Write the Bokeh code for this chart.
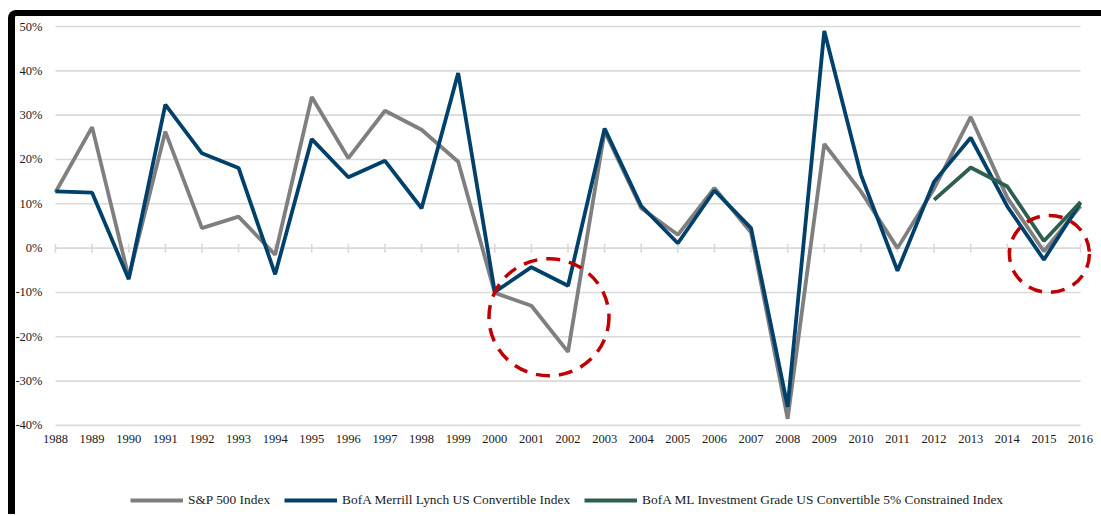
import math
from bokeh.plotting import figure
from bokeh.models import Range1d, Legend, LegendItem
from bokeh.core.properties import value
from bokeh.embed import file_html
from bokeh.resources import INLINE

# ---- data ----
years = list(range(1988, 2017))
year_labels = [str(y) for y in years]
sp500 = [12.6, 27.3, -6.6, 26.3, 4.5, 7.1, -1.5, 34.1, 20.3, 31.0, 26.7, 19.5,
         -10.1, -13.0, -23.4, 26.4, 9.0, 3.0, 13.6, 3.5, -38.5, 23.5, 12.8, 0.0,
         13.4, 29.6, 11.4, -0.7, 9.5]
convertible = [12.8, 12.5, -7.0, 32.4, 21.4, 18.1, -5.9, 24.6, 16.0, 19.7, 9.0, 39.5,
               -9.9, -4.3, -8.5, 27.0, 9.5, 1.1, 13.0, 4.5, -35.8, 49.0, 16.6, -5.1,
               15.0, 24.9, 9.4, -2.6, 10.3]
ig_years = [2012, 2013, 2014, 2015, 2016]
ig_convertible = [10.9, 18.2, 13.9, 1.6, 10.4]

y_ticks = [-40, -30, -20, -10, 0, 10, 20, 30, 40, 50]
y_tick_labels = [f"{v}%" for v in y_ticks]

names = ["S&P 500 Index",
         "BofA Merrill Lynch US Convertible Index",
         "BofA ML Investment Grade US Convertible 5% Constrained Index"]

# highlighted regions (center year, center value)
hl_x = [2001.48, 2015.15]
hl_y = [-15.6, -1.3]
hl_w = [120, 80]
hl_h = [117, 77]

FONT = "Liberation Serif"
GRID = "#d9d9d9"
TXT = "#1a1a1a"

p = figure(frame_width=1086, frame_height=498, x_axis_location=None, y_axis_location=None,
           min_border_left=0, min_border_right=0, min_border_top=0, min_border_bottom=0,
           x_range=Range1d(1986.907, 2016.573), y_range=Range1d(-60.1, 52.26),
           output_backend="svg", toolbar_location=None)
p.styles = {"border-top": "6px solid black", "border-left": "7px solid black",
            "border-top-left-radius": "8px", "margin-top": "10px", "margin-left": "8px"}
p.outline_line_color = None
p.xgrid.visible = False
p.ygrid.visible = False

# value labels left of the category span
p.text(x=[years[0]] * len(y_ticks), y=y_ticks, text=y_tick_labels, x_offset=-13,
       text_align="right", text_baseline="middle", text_font=value(FONT),
       text_font_size="12.5px", text_color=TXT)
# category labels under the lowest gridline
p.text(x=years, y=[y_ticks[0]] * len(years), text=year_labels, y_offset=10,
       text_align="center", text_baseline="top", text_font=value(FONT),
       text_font_size="12.5px", text_color=TXT)

# gridlines (only across the category span)
p.segment(x0=[years[0]] * len(y_ticks), x1=[years[-1]] * len(y_ticks),
          y0=y_ticks, y1=y_ticks, line_color=GRID, line_width=1.6)
# category tick marks on the zero line
p.scatter(x=years, y=[0] * len(years), marker="dash", angle=math.pi / 2, size=9,
          line_color=GRID, line_width=1.6)

r1 = p.line(years, sp500, line_color="#7f7f7f", line_width=3.8)
r2 = p.line(years, convertible, line_color="#00416b", line_width=3.8)
r3 = p.line(ig_years, ig_convertible, line_color="#2e5e4e", line_width=3.8)

p.ellipse(x=hl_x, y=hl_y, width=hl_w, height=hl_h, width_units="screen",
          height_units="screen", fill_color=None, line_color="#c00000",
          line_width=3.5, line_dash="14 9")

legend = Legend(items=[LegendItem(label=names[0], renderers=[r1]),
                       LegendItem(label=names[1], renderers=[r2]),
                       LegendItem(label=names[2], renderers=[r3])],
                orientation="horizontal", location=(115, 6),
                label_text_font=FONT, label_text_font_size="13.4px",
                label_text_color=TXT, glyph_width=53, glyph_height=16,
                label_height=16, label_standoff=5, spacing=14, padding=0, margin=0,
                border_line_color=None, background_fill_alpha=0)
p.add_layout(legend, "center")

open("out.html", "w").write(file_html(p, INLINE))
